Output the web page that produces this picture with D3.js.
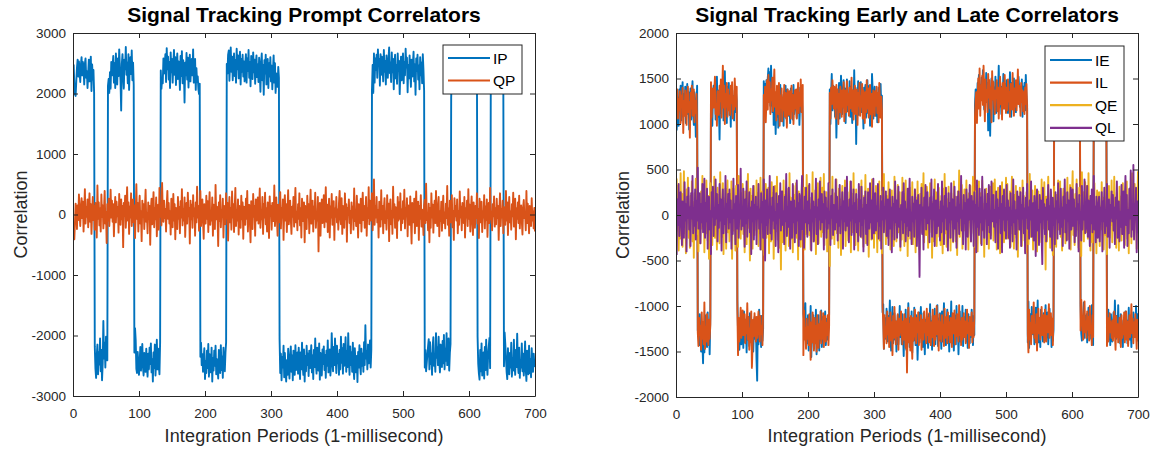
<!DOCTYPE html>
<html><head><meta charset="utf-8">
<script src="https://cdn.jsdelivr.net/npm/d3@7"></script>
<style>body{margin:0;background:#fff} svg{display:block} text{font-family:"Liberation Sans",Arial,Helvetica,sans-serif}</style>
</head><body><svg id="c" width="1156" height="450"></svg>
<script>
// ---------------- data ----------------
const xTicks = [0,100,200,300,400,500,600,700];
const promptYTicks = [-3000,-2000,-1000,0,1000,2000,3000];
const elYTicks = [-2000,-1500,-1000,-500,0,500,1000,1500,2000];
// navigation data bits (20 ms each), first bit partially visible (phase 8 ms)
const navBits = [1,1,-1,1,1,-1,-1,1,1,1,-1,-1,1,1,1,1,-1,-1,-1,-1,-1,-1,-1,1,1,1,1,-1,-1,1,1,-1,1,-1,-1,-1];
const BIT_LEN = 20, BIT_PHASE = 8;
// |IP| per integration period
const ipAmp = [
2480,2150,1990,1960,2210,2420,2560,2280,2530,2340,2190,2480,2600,2300,2520,2410,2150,2490,2580,2260,
2370,2090,2330,2560,2200,2450,2610,2040,2480,2230,2390,2010,2180,2550,2700,2330,2150,2640,2280,2480,
2050,2590,2240,2740,2460,1760,2380,2120,2530,2020,2290,2410,2130,2240,2010,2350,2080,2520,2300,2450,
2620,2180,2500,2090,2660,2360,2150,2580,2290,2730,2440,2210,1720,2490,2650,2300,2080,2560,2400,2770,
2310,2510,2170,2650,2060,2460,2600,2320,2710,2220,2510,2140,2280,1880,2080,2550,2620,2270,2490,2650,
2430,2190,2580,2350,2140,2520,2660,2290,2470,2600,2220,2510,2680,2300,2560,2200,2470,2130,2610,2390,
2760,2280,2540,2150,2660,2410,2070,2560,2220,2490,2640,2110,2380,2080,2250,2170,2580,2330,2480,2650,
2190,2750,2400,2610,2230,2520,2090,2680,2350,2570,2180,2490,2720,2310,2600,2140,2450,2660,2240,2530,
2400,2060,2620,2290,2700,2170,2550,2420,1850,2510,2300,2670,2230,2590,2100,2480,2640,2200,2460,2570,
2300,2730,2180,2480,2570,2060,2420,2190,2280,2070,1990,2160,2350,2120,2490,2310,2600,2380,2210,2720,
2430,2620,2250,2540,2140,2680,2310,2490,2610,2200,2760,2370,2580,2250,2500,2170,2640,2390,2550,2710,
2240,2480,2620,2160,2570,2350,2700,2200,2510,2590,2290,2110,2490,2330,2640,2710,2210,2500,2760,2360,
2610,2220,2490,2660,2290,2550,2180,2740,2400,2630,2250,2500,2690,2150,2570,2360,2640,2280,2530,2200,
2490,2650,2180,2580,2370,2720,2260,2520,2120,2620,2390,2240,2680,2350,2560,2160,2490,2630,2270,2480,
2190,2590,2340,2030,2510,2660,2220,2470,1980,2550,2330,2640,2150,2450,2570,2090,2500,2280,2600,2200,
2460,2070,2390,2630,2180,2500,2010,2330,2230,2110,2440,2260,2060,2620,2300,2740,2360,2530,2170,2690,
2290,2580,2760,2410,2650,2220,2530,2710,2350,2180,2600,2330,2740,2250,2500,2650,2160,2570,2390,2280,
2630,2200,2460,2720,2280,2560,2120,2500,2650,2230,2760,2340,2590,2170,2490,2300,2670,2250,2540,2360,
2160,2610,2330,2720,2240,2520,2050,2470,2630,2200,2400,2580,2130,2730,2290,2530,2660,2230,2470,2180,
2570,2320,2700,2250,2500,2080,2610,2380,2230,2660,2480,1960,2340,2590,2190,2490,2050,2370,2620,2170,
2460,2310,2650,2240,2560,2020,2450,2210,2630,2140,2500,2330,2030,2600,2260,2520,1960,2410,2650,2180,
2490,2280,2600,2120,2530,2720,2210,2460,2610,2340,2770,2270,2530,2160,2450,2640,2220,2500,2300,2600,
2110,2490,1830,2380,2250,2560,2150,2460,2290,2080,2530,2230,2060,2470,2010,2660,2180,2580,2390,2640,
2260,2730,2470,2570,2130,2650,2310,2610,2440,2200,2720,2360,2540,2150,2630,2420,2260,2560,2760,2340,
2510,2190,2680,2350,2570,2070,2480,2640,2250,2470,2160,2660,2380,2540,1990,2360,2610,2220,2500,2660,
2170,2520,2300,2740,2430,2590,2020,2470,2250,2630,2370,2110,2560,2280,2490,2690,2200,2480,1980,2580,
2370,2640,2230,2460,2070,2600,2300,2510,2170,2650,2390,2040,2530,2240,2590,2450,2310,2180,2060,2560,
2110,2470,2300,2650,2180,2030,2500,2340,2600,1960,2370,2200,2490,2020,2430,2610,2150,2290,2520,2090,
2460,1990,2560,2220,2420,1960,2490,2170,2050,2580,2290,2140,1930,2340,2530,2180,2610,2400,2260,2640,
2310,2550,2190,2690,2400,2600,2250,2500,2130,2640,2370,2560,2210,2740,2460,2290,2620,2200,2510,2680,
2270,2550,2160,2630,2400,2510,2220,2640,2330,2540,2130,2590,2020,2470,2630,2730,2240,2590,2130,2660,
2500,2280,2710,2190,2570,2070,2460,2650,2310,2170,2040,2540,2130,2390,2600,2250,2490,2170,2640,2320,
2550,2230,2460,2180,2660,2310,2490,2090,2590,2270,2430,2180,2510,1950,2140,2370,2600,2720,2210,2500,
2640,2290,2530,2120,2680,2380,2580,2070,2490,2650,2240,2520,1970,2460,2620,2200,2700,2400,2530,2130,
2590,2300,2660,2440,2100,2560,2750,2250,2490,2640,2170,2620,2390,2690,2210,2500,2600,2300,2480,2520];
// QP per integration period
const qp = [
-320,-410,-120,180,60,-240,150,-90,330,20,-190,110,270,-60,210,-280,40,420,-150,120,
-40,250,-210,80,350,-120,170,-320,50,290,-90,140,-250,190,30,-380,480,-70,200,-180,
100,-280,330,-40,150,-230,80,390,-150,40,-470,170,-100,260,-190,60,410,-50,230,-120,
170,-360,50,290,-130,210,-30,120,-300,340,20,-170,250,-80,140,-540,190,-20,310,-220,
80,450,-100,200,-320,130,-50,350,-190,60,250,-130,150,-390,30,500,-70,190,-280,100,
310,-150,50,-440,230,-40,170,-240,90,410,-120,30,-310,200,-70,140,-500,80,260,-160,
30,370,-210,110,-80,280,-360,60,160,-250,440,-40,130,-180,520,20,-120,230,-60,90,
-280,140,390,-70,190,-150,50,-330,260,80,-210,340,-100,170,-410,110,30,-240,290,-70,
120,-310,220,-50,420,-180,90,-100,280,-370,50,190,-150,360,-30,110,-480,230,-80,160,
-220,320,-20,100,-350,200,-130,460,-50,140,-270,70,390,-190,20,250,-100,-400,170,50,
-150,310,-70,220,-290,110,370,-170,60,-100,280,-350,160,30,-240,490,-80,130,-40,-520,
200,-110,320,-210,70,-40,260,-380,140,90,-160,350,-70,190,-430,50,290,-130,110,-250,
380,-50,170,-290,90,440,-190,70,-100,250,-330,140,20,-220,310,-80,200,-400,130,40,
-170,260,-70,390,-280,80,160,-110,-460,220,50,-240,340,-40,140,-350,250,-100,70,280,
-150,110,430,-220,40,-80,290,-320,170,-50,360,-160,100,-280,200,70,-390,300,-20,140,
-250,190,50,-110,480,-190,100,280,-70,-350,160,30,-130,370,-230,110,-50,250,-420,80,
320,-100,170,-290,70,400,-160,40,230,-80,-320,130,-40,290,-200,100,440,-130,50,-260,
170,-70,350,-180,100,-380,260,30,-110,200,-460,140,60,-240,310,-50,170,-310,90,410,
-150,50,230,-280,130,-70,360,-220,40,-100,290,-610,110,190,-350,70,250,-140,-30,320,
-210,100,450,-120,160,-290,50,260,-380,130,-50,340,-170,70,220,-420,100,-40,290,-130,
80,-250,190,390,-60,-160,270,-320,140,50,-220,350,-80,170,-450,110,20,250,-140,60,
-310,200,-50,130,-250,430,-110,70,-190,310,-30,-380,170,100,-140,260,-280,50,360,-90,
140,-220,30,290,-350,110,-60,450,-160,230,-100,-40,350,-260,80,580,-170,130,-50,290,
-130,70,-380,210,40,-200,400,-80,140,-310,90,270,-140,50,-250,320,-60,180,-440,110,
250,-160,60,-320,460,-50,170,-220,120,30,-390,290,-100,200,-70,350,-260,80,-140,220,
-70,410,-230,100,-30,270,-360,150,50,-170,300,-80,-480,190,90,-130,260,-310,60,380,
-190,50,210,-420,140,-70,320,-200,80,-30,-340,150,240,-140,510,-90,30,-260,180,-460,
110,-220,350,-50,160,-300,60,230,-140,390,-80,-190,120,290,-360,50,-110,210,-270,90,
310,-140,30,-230,180,-60,470,-170,100,-350,230,50,-130,320,-210,60,-420,270,-30,140,
-100,250,-310,60,-170,380,-50,130,-260,190,30,-140,290,-380,100,-50,230,-190,420,-70,
160,-280,80,300,-110,-340,200,30,-220,140,-60,350,-150,90,-390,260,50,-130,210,-290,
60,-50,320,-230,130,-90,250,-370,30,190,-140,440,-80,50,-260,170,-30,300,-200,100,
-160,260,-60,140,-420,70,350,-190,90,-50,230,-310,120,30,-170,390,-100,200,-340,50,
290,-130,50,-250,170,-30,360,-200,80,260,-410,100,-70,200,-140,310,-230,60,150,-100,
-330,110,240,-60,30,-260,390,-140,180,-50,-310,140,60,-190,270,-100,50,-230,110,-280];
// |IE| per integration period
const ieAmp = [
930,1100,1290,980,1380,1150,1420,1040,1300,1460,1080,1330,1190,1410,1010,1250,1440,1110,1350,940,
1210,1390,1050,1300,1470,1130,990,1350,1220,860,1140,1420,1270,1240,1430,1090,1320,1500,1180,1400,
1630,1210,1510,1100,1360,1250,1450,1070,1390,1180,1530,1120,1340,1160,980,1310,1420,1220,1470,1050,
1260,1520,1080,1370,1190,830,1300,1120,1460,1230,1390,1040,1240,1580,1140,1350,1010,1410,1200,1450,
1100,1280,970,1400,1160,1310,1230,1040,1370,1130,1340,1250,940,1290,1140,1480,1330,1150,1420,1230,
1110,1460,1060,1310,1400,1200,1510,1140,1370,1250,1440,1080,1330,1170,1400,1230,1500,1280,1120,1360,
1190,1590,1820,1140,1420,1040,1300,1200,1450,1110,1380,1250,1470,1310,1440,1150,1480,1370,1500,1610,
1290,1570,1200,1640,1380,1130,1500,990,1350,1180,890,1270,1080,1390,960,1230,1150,1430,1030,1320,
1120,1250,980,1360,1170,1420,1060,1280,1380,1090,1310,1200,1010,1390,1160,1330,1050,1430,1110,1270,
1370,1180,1070,1300,1120,1400,990,1230,1330,1140,1260,1030,1080,1150,1340,970,1430,1250,1410,1100,
1490,1170,1360,1000,1560,1260,1400,1100,1470,1190,1360,1040,1530,1230,1410,1100,1490,1200,1380,1050,
1450,1250,1120,1390,1200,1060,1430,1280,1140,1370,1220,1090,1380,1000,1330,1550,1150,1420,1250,1300,
1080,1390,850,1200,1340,1150,1450,1060,1280,1530,1350,1110,1300,1480,1180,1390,1010,1260,1490,1140,
1330,1210,1470,1080,1410,1240,1010,1350,1140,1590,1210,1400,780,1300,1170,1470,1100,1320,1230,1460,
1130,1370,1220,950,1400,1170,1430,1070,1270,1480,1120,1330,1420,980,1270,1180,1550,1360,1060,1270,
1410,1180,1090,1340,1020,1230,1400,1100,1270,1440,1160,1310,1070,980,1470,1130,1260,1360,1030,1290,
1390,1110,1220,940,1340,1490,1160,1010,1410,1240,1080,1370,1170,1500,1290,1100,1420,1230,1000,1340,
1170,1420,1090,1280,1550,1200,1320,1040,1480,1150,1380,970,1250,1450,1130,1310,1060,1510,1190,1380,
1020,1290,1430,1100,1230,1590,1330,1070,1400,1210,1010,1340,1230,1450,1080,1300,1530,1150,1370,1120,
1270,1460,1090,1310,980,1390,1170,1480,1110,1350,1270,1030,1420,1200,1330,990,1440,1140,1380,1080,
1290,1470,1060,1390,1210,970,1340,1130,1430,1240,1040,1380,1220,1500,1110,1300,950,1410,1190,1320,
1490,1100,1270,1420,1000,1330,1160,1530,1240,1060,1390,1190,1300,1000,1440,1120,1340,1240,1040,1390,
1200,1460,1090,1290,1410,1150,1340,1040,1260,1430,1110,1320,1210,1380,1270,1250,1450,1400,1540,1260,
1420,1320,1510,1270,1590,1380,1160,1480,1300,1560,1240,1450,930,1390,1190,870,1340,1500,1270,1470,
1030,1400,1230,1520,1120,1450,1270,1360,1640,1190,1480,1320,1110,1410,1260,1550,1170,1370,1440,1230,
1480,1290,1120,1390,1210,1570,1330,1080,1450,1260,1370,1500,1180,1360,1130,1430,1300,1230,1520,1390,
1190,1360,1270,1490,1080,1410,1240,1450,1150,1540,1300,1210,1400,950,1460,1270,1090,1350,1010,1180,
1310,1100,1420,1190,1020,1360,1230,940,1400,1130,1280,1450,1040,1300,1200,1390,1080,1330,1230,990,
1350,1180,1070,1420,1230,1030,1300,1120,1450,1200,1380,1260,1050,1410,1150,1320,1220,1500,1110,1370,
1250,1440,1090,1350,1200,1410,1040,1490,1270,1140,1360,1100,1440,1220,1310,1120,1380,1190,1480,1260,
1080,1410,1180,1330,1100,1430,1280,1150,1380,1220,1450,1070,1000,1300,1380,1120,1220,960,1350,1110,
1280,1090,1400,1190,1020,1320,1220,1100,1360,990,1280,1430,1150,1350,1210,1410,1070,1310,1240,1390,
1120,1450,1230,1350,1060,1400,1260,1130,1480,1310,1180,1390,1020,1250,1040,1370,1210,1430,1090,1290,
1390,1190,1070,1300,940,1240,1360,1110,1320,990,1280,1150,1410,1090,1230,1350,1450,1160,1360,1220,
1060,1300,1160,1410,1240,1020,1370,1120,1270,1450,1190,1340,1070,1290,1150,1320,1000,1220,1380,1080];
// |IL| per integration period
const ilAmp = [
1300,1380,1060,1270,1150,1360,1010,1310,1190,1400,900,1250,1090,1370,1220,990,1300,1410,1130,1240,
850,1340,1170,1420,1090,1280,1380,1020,1250,1120,1330,990,1290,1440,1130,1320,1220,1480,1070,1360,
1180,1420,960,1470,1230,1390,1090,1300,1430,1150,1360,1200,1460,1070,1290,1390,1180,1310,1520,1110,
1220,980,1360,1170,1100,1420,1250,1490,1070,1340,1640,1180,1420,1000,1330,1190,1450,1080,1380,1150,
1310,1100,1420,1230,1460,1060,1290,1160,1500,1300,1190,1410,1040,1540,1130,1390,1220,1020,1350,1160,
1050,1320,1210,1090,1410,1150,1300,970,1370,1120,1480,1250,1400,1060,1680,1430,1150,1330,1080,1260,
1390,1120,1350,1190,1060,1300,1390,1110,1310,1220,1430,1080,1320,1170,1410,1020,1270,1480,1160,1540,
1240,1460,1110,1380,1260,1510,1140,1400,1600,1190,1350,1040,1420,1230,1110,1450,980,1310,1180,1390,
1030,1290,1150,1430,1080,1340,1210,960,1380,1170,1100,1360,1240,1060,1420,1140,1320,1000,1250,1370,
1170,1380,1060,1290,1450,1120,1340,1200,1490,1130,1400,1430,1540,1050,1370,1240,1470,1140,1360,1230,
1430,1090,1290,1590,1180,1400,1070,1280,1490,1130,1410,1220,1500,1100,1330,1460,1200,1360,1060,1410,
1170,1360,1080,1450,1230,1110,1390,1190,1320,1100,1430,1210,1340,1060,1400,1220,1480,1310,1170,1410,
1260,1060,1430,1180,1380,1000,1330,1130,1410,1240,1080,1370,1190,1460,1030,1290,1370,1130,1470,1210,
1330,1090,1400,1170,1290,1510,1140,1370,1050,1320,1420,1110,1260,1380,990,1340,1200,1450,1090,1300,
1190,1440,1060,1370,1240,1010,1350,1130,1480,1170,1390,1070,1290,1430,1110,1330,970,1270,1370,1150,
1090,1360,1200,1410,1120,1340,1020,1450,1230,1070,1300,1150,1000,1190,1470,1100,1340,1230,1410,1060,
1310,1130,1450,1240,1070,1380,1180,1540,1110,1350,1010,1270,1420,1170,1330,1090,1480,1140,1320,1210,
1060,1270,1420,1170,1370,1090,1290,1460,1140,1730,1210,1020,1400,1200,1490,1110,1300,1580,1130,1380,
1210,1040,1320,1410,1130,1290,1070,1430,1180,1350,1100,1480,1240,1150,1370,1060,1290,1190,1410,1030,
1320,1130,1400,1080,1270,1430,1180,1340,1040,1290,1440,1110,1370,1220,1000,1310,1170,1490,1090,1360,
1180,1390,1100,1310,1210,1440,1030,1350,1240,1120,1410,1070,1320,1180,1400,1130,1290,1450,1080,1300,
1230,1050,1420,1160,1330,1090,1290,1390,990,1320,1170,1430,1130,1370,1240,1080,1340,1170,1410,1220,
1040,1300,1190,1460,1120,1320,1230,1070,1400,1190,1340,1130,1080,1260,1350,1010,1290,1500,1170,1610,
1090,1420,1260,1530,1210,1640,1340,1030,1490,1250,1370,1130,1550,1290,1480,1170,1400,1020,1580,1270,
1460,1240,1110,1370,1290,1480,1140,1400,1060,1310,1520,1220,1390,1050,1450,1280,1170,1540,1300,1120,
1400,1150,1490,1250,1350,1080,1440,1290,1160,1560,1270,1090,1390,1190,1480,1150,1340,1600,1220,1420,
1300,1090,1450,1240,1370,1140,1350,1110,1400,1220,1440,1170,1300,1510,1040,1370,1190,1420,1110,1300,
1180,960,1350,1210,1400,1090,1490,1190,1030,1300,1130,1370,1180,1010,1320,1230,1100,1400,1040,1270,
1390,1110,1290,1170,980,1350,1220,1080,1320,1140,1430,1050,1260,1350,1190,1110,1420,1220,1330,1120,
1300,1130,1390,1210,1410,1100,1330,1240,1070,1440,1200,1380,1140,1290,1370,1160,1300,1460,1110,1340,
1240,1360,1090,1440,1180,1300,1400,1120,1260,1470,1140,1340,1270,930,1080,1210,1370,1150,950,1290,
1170,1350,1060,1260,1120,1380,1000,1300,1220,1430,1100,1340,1180,1310,1260,1070,1390,1200,1330,1110,
1370,1190,1430,1110,1290,1330,1070,1380,1230,1100,1340,1210,1440,1130,1390,1260,1080,1290,1180,1350,
1160,1380,1250,1060,1300,1480,1110,1340,1200,1400,1290,1130,1280,1450,1100,1350,1220,1310,1070,1400,
1250,1060,1370,1170,1440,1260,1100,1340,1210,980,1300,1140,1410,1180,1340,1090,1280,1470,1150,1380];
// QE per integration period
const qe = [
400,-170,320,-390,130,-260,460,-80,230,-350,50,480,-200,110,-420,280,-30,410,-250,90,
-360,210,-60,370,-290,140,-470,240,-120,400,-210,60,330,-400,170,-20,-310,260,-150,430,
-80,310,-410,120,-200,380,-30,-280,210,-480,100,350,-170,60,-330,250,-90,420,-250,150,
30,-380,300,-110,220,-310,470,-50,130,-240,350,-430,180,-20,290,-370,80,380,-190,40,
-290,230,-80,370,-480,110,290,-170,60,-390,320,-30,200,-350,430,-120,20,-260,240,-70,
340,-210,120,-410,260,-40,-320,190,450,-140,40,-500,290,-80,210,-370,110,320,-220,60,
-160,380,-60,240,-340,80,-200,410,-20,-380,260,-110,160,-440,50,340,-250,120,-70,300,
-420,190,40,-290,360,-100,240,-480,80,320,-180,20,420,-270,120,-360,210,-60,-600,260,
130,-300,380,-70,220,-390,110,290,-200,40,-340,460,-120,190,-260,80,-410,320,-30,220,
-100,350,-250,80,-490,260,-40,210,-350,120,400,-160,-60,300,-380,150,-210,440,-70,30,
320,-220,120,-380,190,-80,470,-290,70,-170,270,-430,160,-20,350,-310,100,-140,410,-240,
-30,300,-190,450,-330,80,-130,250,-400,150,-60,340,-560,200,30,-260,420,-150,80,-320,
240,-110,390,-200,60,-360,290,-40,170,-440,120,320,-260,70,-160,380,-340,110,-60,250,
-280,160,-70,370,-410,80,230,-190,460,-120,30,-330,280,-60,170,-390,100,310,-220,40,
380,-250,110,-350,210,-30,440,-310,70,-150,290,-460,140,-80,250,-270,390,-40,190,-360,
100,-200,320,-60,-410,240,-120,370,-280,60,170,-420,260,-80,450,-160,30,-320,210,-110,
-250,360,-70,190,-380,120,270,-230,40,-340,420,-110,150,-290,60,330,-190,-40,250,-390,
80,-270,410,-130,230,-340,60,380,-210,120,-450,200,-40,300,-260,80,-160,360,-320,130,
-60,280,-410,190,-110,370,-250,40,-380,230,-80,340,-190,70,460,-300,150,-30,-220,310,
170,-360,80,-190,350,-40,200,-470,140,-290,60,390,-150,250,-340,110,-60,300,-240,80,
-330,210,-40,-420,290,-120,450,-200,80,-350,170,-30,310,-250,70,-390,240,-80,140,-300,
370,-100,200,-290,40,-440,260,-150,490,-240,100,-60,330,-370,160,-70,280,-170,-20,380,
-210,120,-380,240,-80,320,-290,150,-30,420,-200,80,-350,260,-60,170,-400,100,370,-150,
240,-310,60,380,-170,120,-460,210,-70,290,-260,40,170,-370,80,310,-220,110,-40,350,
-280,70,390,-120,210,-380,30,300,-210,120,-420,240,-70,360,-160,60,-300,200,-80,410,
-130,340,-260,90,-40,260,-350,160,420,-200,20,-370,220,-80,320,-250,120,-460,190,30,
300,-160,80,-340,380,-60,210,-280,110,-410,250,-30,150,-320,60,450,-240,90,-170,270,
-380,120,-80,320,-190,220,-400,40,260,-110,-300,190,-30,390,-250,80,-150,360,-60,-600,
200,-290,110,420,-140,40,-360,250,-70,160,-440,80,310,-210,30,-350,220,-40,380,-160,
-80,370,-240,60,-390,150,290,-190,70,-310,240,-30,410,-270,120,-70,330,-380,80,190,
480,-220,110,-330,230,-40,390,-160,80,-360,300,-20,190,-450,470,-110,250,-290,60,360,
-190,70,320,-260,460,-90,170,-390,30,210,-300,120,-60,350,-200,80,-420,270,-30,150,
250,-340,90,-160,360,-70,190,-380,40,290,-220,110,-430,210,-20,320,-250,60,-110,380,
-300,130,-60,420,-210,80,-360,250,-30,150,-390,310,-90,200,-280,40,350,-190,110,-330,
210,-110,370,-260,70,-420,280,-40,160,-310,460,-130,60,-240,340,-80,200,-370,90,480];
// QL per integration period
const ql = [
-440,170,-110,340,-230,60,250,-80,-330,150,40,-250,360,-60,120,-400,200,-30,300,-160,
80,-340,240,-40,430,-200,70,-120,280,-270,160,-60,520,-150,40,240,-310,120,-80,340,
-190,60,400,-250,130,-70,290,-370,100,200,-160,40,-430,250,-20,310,-230,80,-110,390,
-40,230,-290,110,-140,340,-60,170,-390,80,280,-200,30,-100,430,-300,120,-20,230,-150,
280,-80,160,-370,50,-210,400,-30,120,-320,210,40,-150,330,-250,80,-40,510,-160,60,
-120,290,-40,-350,170,-90,370,-240,70,-30,250,-190,80,-430,150,-70,320,-270,110,-20,
200,-320,90,-40,340,-150,60,-380,240,-80,140,-250,390,-40,-500,160,-110,280,-210,70,
-30,430,-200,90,-270,190,-60,310,-150,30,-340,240,-90,120,-410,210,-30,350,-170,80,
260,-110,40,-320,200,-70,450,-230,80,-130,300,-40,-370,150,50,-250,340,-80,160,-300,
70,-200,380,-60,130,-340,230,-20,-270,120,430,-160,50,-360,200,-80,300,-30,-240,150,
-90,340,-170,50,-390,240,-70,150,-290,90,-20,400,-210,80,-320,170,-50,370,-160,30,
230,-80,120,-380,260,-40,190,-250,70,-150,350,-90,40,-330,210,-30,280,-220,110,-60,
-160,390,-80,200,-280,50,-120,330,-200,80,-40,250,-370,150,-70,300,-170,30,420,-120,
80,-300,170,-60,370,-220,90,-30,280,-380,130,-80,230,-190,40,-290,340,-70,160,-240,
310,-110,70,-400,190,-40,260,-210,110,-330,250,-30,-150,350,-80,160,-260,50,400,-200,
-30,240,-170,90,-70,340,-260,40,-120,210,-370,150,-50,300,-190,80,-40,260,-230,120,
170,-330,60,280,-150,80,-410,200,-30,120,-270,370,-80,160,-250,40,310,-130,70,-350,
110,-50,250,-200,350,-80,150,-290,60,-120,290,-230,80,400,-170,30,-320,200,-70,120,
-240,280,-40,160,-340,70,220,-150,-680,110,-50,300,-210,80,-380,190,-30,330,-160,40,
250,-90,80,-300,190,-40,390,-240,120,-50,280,-340,70,160,-200,-40,340,-120,50,-280,
150,-190,370,-70,90,-320,210,-30,300,-160,70,-390,240,-80,130,-250,350,-50,170,-290,
-40,310,-150,80,-360,200,-70,260,-210,110,-30,430,-170,50,-320,220,-90,130,-380,280,
80,-240,170,-50,330,-120,-290,210,-40,150,-340,250,-70,110,-410,380,-130,70,-220,290,
-80,190,-330,420,-160,50,-250,280,-40,120,-320,230,-110,330,-190,40,-260,370,-70,160,
220,-130,50,-300,260,-80,170,-370,80,-30,320,-200,120,-410,210,-50,280,-170,70,-260,
330,-50,160,-250,80,-360,240,-110,40,-290,390,-80,150,-210,50,-380,260,-40,200,-160,
-90,250,-340,110,-40,300,-200,70,-420,190,-30,340,-150,80,-260,160,-50,370,-240,40,
130,-280,210,-70,-450,120,280,-170,50,-330,220,-80,160,-250,-540,300,-40,120,-210,80,
-290,170,-50,330,-160,90,-240,280,-30,-390,190,-110,70,-320,250,-40,150,-260,350,-80,
50,-210,290,-130,80,-340,200,-40,390,-190,110,-280,250,-70,160,-370,50,300,-160,-40,
280,-120,170,-300,70,-230,340,-50,120,-400,220,-80,30,-280,320,-160,80,-50,390,-200,
-150,70,320,-240,160,-40,-340,210,-90,280,-190,50,430,-160,90,-300,200,-20,-250,120,
200,-290,80,-50,250,-400,150,-70,300,-200,30,-120,340,-240,50,170,-360,110,-30,260,
-70,220,-170,80,-320,190,-40,370,-250,70,150,-290,40,-130,330,-210,80,260,-360,160,
430,-110,220,-340,50,-200,290,-40,490,-240,80,-160,550,-270,120,-50,300,-410,150,-200];

// ---------------- chart ----------------
const C = {blue:"#0072BD", orange:"#D95319", yellow:"#EDB120", purple:"#7E2F8E", axis:"#262626"};
const bitAt = i => navBits[Math.floor((i + BIT_PHASE) / BIT_LEN)];
const IP = ipAmp.map((v,i)=>bitAt(i)*v);
const IE = ieAmp.map((v,i)=>bitAt(i)*v);
const IL = ilAmp.map((v,i)=>bitAt(i)*v);

const svg = d3.select("#c");
svg.append("rect").attr("width",1156).attr("height",450).attr("fill","#fff");

function panel(o){
  const x = d3.scaleLinear().domain([0,700]).range([o.x0,o.x1]);
  const y = d3.scaleLinear().domain(o.yDomain).range([o.y1,o.y0]);
  const g = svg.append("g");
  const cid = "clip"+o.id;
  svg.append("defs").append("clipPath").attr("id",cid).append("rect")
    .attr("x",o.x0).attr("y",o.y0).attr("width",o.x1-o.x0).attr("height",o.y1-o.y0);
  const line = d3.line().x((d,i)=>x(i+1)).y(d=>y(d));
  const lg = g.append("g").attr("clip-path",`url(#${cid})`);
  o.series.forEach(s=>{
    lg.append("path").datum(s.values).attr("d",line).attr("fill","none")
      .attr("stroke",s.color).attr("stroke-width",1.9).attr("stroke-linejoin","round");
  });
  const fmt = d=>String(d);
  const ax = (sel)=>{sel.selectAll(".domain").attr("stroke",C.axis);sel.selectAll(".tick line").attr("stroke",C.axis);
    sel.selectAll("text").attr("fill",C.axis).style("font-size","13.5px").style("font-family",'"Liberation Sans",Arial,sans-serif');};
  g.append("g").attr("transform",`translate(0,${o.y1})`)
    .call(d3.axisBottom(x).tickValues(xTicks).tickFormat(fmt).tickSizeInner(-5).tickSizeOuter(0).tickPadding(12)).call(ax);
  g.append("g").attr("transform",`translate(0,${o.y0})`)
    .call(d3.axisTop(x).tickValues(xTicks).tickFormat("").tickSizeInner(-5).tickSizeOuter(0)).call(ax);
  g.append("g").attr("transform",`translate(${o.x0},0)`)
    .call(d3.axisLeft(y).tickValues(o.yTicks).tickFormat(fmt).tickSizeInner(-5).tickSizeOuter(0).tickPadding(7)).call(ax);
  g.append("g").attr("transform",`translate(${o.x1},0)`)
    .call(d3.axisRight(y).tickValues(o.yTicks).tickFormat("").tickSizeInner(-5).tickSizeOuter(0)).call(ax);
  g.append("text").attr("x",(o.x0+o.x1)/2).attr("y",22).attr("text-anchor","middle")
    .style("font-size","21px").style("font-weight","bold").attr("fill","#000").text(o.title);
  g.append("text").attr("x",(o.x0+o.x1)/2).attr("y",442).attr("text-anchor","middle")
    .attr("textLength",279).attr("lengthAdjust","spacing")
    .style("font-size","18px").attr("fill",C.axis).text("Integration Periods (1-millisecond)");
  g.append("text").attr("transform",`translate(${o.ylabX},${(o.y0+o.y1)/2}) rotate(-90)`).attr("text-anchor","middle")
    .style("font-size","18px").attr("fill",C.axis).text("Correlation");
  // legend
  const L = o.legend;
  const lgd = g.append("g");
  lgd.append("rect").attr("x",L.x).attr("y",L.y).attr("width",L.w).attr("height",L.h)
    .attr("fill","#fff").attr("stroke",C.axis).attr("stroke-width",1);
  o.series.forEach((s,k)=>{
    const yy = L.y + L.first + k*L.step;
    lgd.append("line").attr("x1",L.x+5).attr("x2",L.x+47).attr("y1",yy).attr("y2",yy)
      .attr("stroke",s.color).attr("stroke-width",2.2);
    lgd.append("text").attr("x",L.x+50).attr("y",yy+5.5).style("font-size","15.5px").attr("fill","#000").text(s.name);
  });
}

panel({id:"L", x0:73, x1:535, y0:33, y1:396, yDomain:[-3000,3000], yTicks:promptYTicks, ylabX:27,
  title:"Signal Tracking Prompt Correlators",
  series:[{name:"IP",values:IP,color:C.blue},{name:"QP",values:qp,color:C.orange}],
  legend:{x:443,y:45,w:79,h:49,first:13,step:22.5}});
panel({id:"R", x0:676, x1:1138, y0:33, y1:397, yDomain:[-2000,2000], yTicks:elYTicks, ylabX:629,
  title:"Signal Tracking Early and Late Correlators",
  series:[{name:"IE",values:IE,color:C.blue},{name:"IL",values:IL,color:C.orange},{name:"QE",values:qe,color:C.yellow},{name:"QL",values:ql,color:C.purple}],
  legend:{x:1045,y:46,w:79,h:95,first:14,step:22.6}});
</script></body></html>
